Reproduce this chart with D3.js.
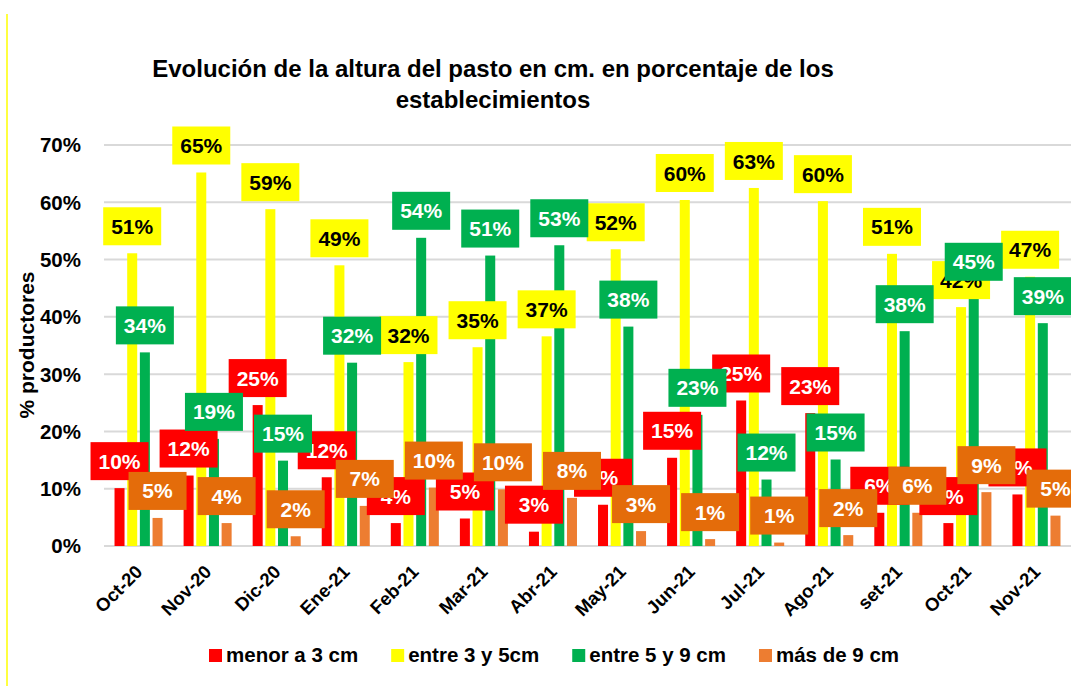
<!DOCTYPE html>
<html>
<head>
<meta charset="utf-8">
<script src="https://cdn.jsdelivr.net/npm/d3@7"></script>
<style>
  body { margin: 0; background: #fff; }
  text { font-family: "Liberation Sans", Arial, sans-serif; font-weight: bold; }
</style>
</head>
<body>
<div id="chart"></div>
<script>
// categories and series
const months = ["Oct-20", "Nov-20", "Dic-20", "Ene-21", "Feb-21", "Mar-21", "Abr-21",
                "May-21", "Jun-21", "Jul-21", "Ago-21", "set-21", "Oct-21", "Nov-21"];
const seriesNames = ["menor a 3 cm", "entre 3 y 5cm", "entre 5 y 9 cm", "más de 9 cm"];
const menor3 = [10.1, 12.3, 24.6, 12.0, 4.0, 4.8, 2.5, 7.2, 15.4, 25.4, 23.2, 5.8, 4.0, 9.0];
const entre3y5 = [51.1, 65.2, 58.8, 49.0, 32.1, 34.7, 36.6, 51.8, 60.4, 62.5, 60.2, 51.0, 41.7, 47.0];
const entre5y9 = [33.8, 18.7, 14.9, 32.0, 53.8, 50.7, 52.5, 38.3, 22.9, 11.6, 15.1, 37.5, 44.9, 38.9];
const mas9 = [4.9, 4.0, 1.7, 7.0, 10.2, 9.9, 8.4, 2.6, 1.2, 0.6, 1.9, 5.8, 9.4, 5.3];
const yTicks = [0, 10, 20, 30, 40, 50, 60, 70];

const seriesValues = [menor3, entre3y5, entre5y9, mas9];
const barColors = ["#FF0000", "#FFFF00", "#00B050", "#ED7D31"];
const boxColors = ["#FF0000", "#FFFF00", "#00B050", "#E46C0A"];
const labelText = ["#FFFFFF", "#000000", "#FFFFFF", "#FFFFFF"];

const width = 1071, height = 686;

const svg = d3.select("#chart")
    .append("svg")
    .attr("width", width)
    .attr("height", height);

// left border line
svg.append("line")
    .attr("x1", 7).attr("x2", 7)
    .attr("y1", 14).attr("y2", height)
    .attr("stroke", "#FFFF00")
    .attr("stroke-width", 1.5);

// title
const title = svg.append("text")
    .attr("text-anchor", "middle")
    .style("font-size", "24px")
    .attr("fill", "#000");
title.append("tspan").attr("x", 493).attr("y", 77)
    .text("Evolución de la altura del pasto en cm. en porcentaje de los");
title.append("tspan").attr("x", 493).attr("y", 108)
    .text("establecimientos");

const x = d3.scaleBand()
    .domain(months)
    .range([104, 1071])
    .padding(0);

const xSub = d3.scaleBand()
    .domain(d3.range(seriesNames.length))
    .range([0, x.bandwidth()])
    .paddingInner(0.21)
    .paddingOuter(0.83);

const y = d3.scaleLinear()
    .domain([0, 70])
    .range([546, 145]);

// gridlines
svg.append("g")
    .selectAll("line")
    .data(yTicks)
    .enter()
    .append("line")
    .attr("x1", 104)
    .attr("x2", 1071)
    .attr("y1", d => y(d))
    .attr("y2", d => y(d))
    .attr("stroke", "#D9D9D9")
    .attr("stroke-width", 2);

// y tick labels
svg.append("g")
    .selectAll("text")
    .data(yTicks)
    .enter()
    .append("text")
    .attr("x", 81)
    .attr("y", d => y(d))
    .attr("dy", "0.36em")
    .attr("text-anchor", "end")
    .style("font-size", "20.5px")
    .text(d => d + "%");

// y axis title
svg.append("text")
    .attr("transform", "translate(34,345) rotate(-90)")
    .attr("text-anchor", "middle")
    .style("font-size", "21px")
    .text("% productores");

// x tick labels
svg.append("g")
    .selectAll("text")
    .data(months)
    .enter()
    .append("text")
    .attr("transform", d => "translate(" + (x(d) + x.bandwidth() / 2 + 5) + ",573) rotate(-45)")
    .attr("text-anchor", "end")
    .style("font-size", "18.5px")
    .text(d => d);

// bars
const cells = [];
seriesValues.forEach((vals, s) => {
    vals.forEach((v, i) => cells.push({ s: s, month: months[i], value: v }));
});

svg.append("g")
    .selectAll("rect")
    .data(cells)
    .enter()
    .append("rect")
    .attr("x", d => x(d.month) + xSub(d.s))
    .attr("y", d => y(d.value))
    .attr("width", xSub.bandwidth())
    .attr("height", d => y(0) - y(d.value))
    .attr("fill", d => barColors[d.s]);

// data labels (drawn series by series so later series sit on top)
const boxW = 58, boxH = 38, boxGap = 8;
const labels = svg.append("g")
    .selectAll("g")
    .data(cells)
    .enter()
    .append("g")
    .attr("transform", d => {
        const cx = x(d.month) + xSub(d.s) + xSub.bandwidth() / 2;
        return "translate(" + cx + "," + (y(d.value) - boxGap - boxH / 2) + ")";
    });

labels.append("rect")
    .attr("x", -boxW / 2)
    .attr("y", -boxH / 2)
    .attr("width", boxW)
    .attr("height", boxH)
    .attr("fill", d => boxColors[d.s]);

labels.append("text")
    .attr("text-anchor", "middle")
    .attr("dy", "0.36em")
    .style("font-size", "21px")
    .attr("fill", d => labelText[d.s])
    .text(d => Math.round(d.value) + "%");

// legend
const legend = svg.append("g");
let lx = 209;
seriesNames.forEach((name, s) => {
    legend.append("rect")
        .attr("x", lx)
        .attr("y", 649)
        .attr("width", 13)
        .attr("height", 13)
        .attr("fill", barColors[s]);
    const t = legend.append("text")
        .attr("x", lx + 17)
        .attr("y", 655)
        .attr("dy", "0.36em")
        .style("font-size", "20.5px")
        .text(name);
    lx += 17 + t.node().getComputedTextLength() + 33;
});
</script>
</body>
</html>
